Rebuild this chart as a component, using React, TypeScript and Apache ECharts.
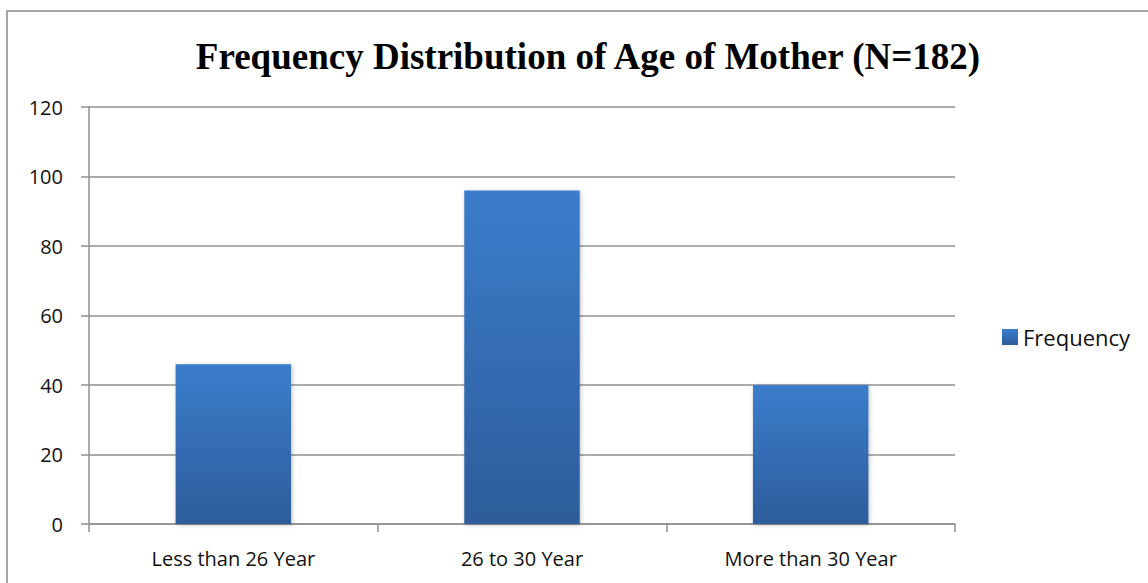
import React, { useEffect, useRef } from "react";
import * as echarts from "echarts";

const categories = ["Less than 26 Year", "26 to 30 Year", "More than 30 Year"];
const frequency = [46, 96, 40];
const seriesName = "Frequency";
const titleText = "Frequency Distribution of Age of Mother (N=182)";

const barGradient = () =>
  new echarts.graphic.LinearGradient(0, 0, 0, 1, [
    { offset: 0, color: "#3b7dcb" },
    { offset: 1, color: "#2d5c9b" },
  ]);

export default function App() {
  const ref = useRef<HTMLDivElement>(null);

  useEffect(() => {
    if (!ref.current) return;
    const chart = echarts.init(ref.current, null, { renderer: "svg" });
    const labelFont = "'Open Sans', 'Noto Sans', sans-serif";
    chart.setOption({
      animation: false,
      backgroundColor: "#ffffff",
      title: {
        text: titleText,
        left: 583,
        top: 33,
        textAlign: "center",
        textStyle: {
          fontFamily: "'Liberation Serif', 'Times New Roman', serif",
          fontWeight: "bold",
          fontSize: 37,
          color: "#000",
        },
      },
      graphic: [
        {
          type: "rect",
          shape: { x: 7, y: 11, width: 1200, height: 640 },
          style: { fill: "none", stroke: "#8a8a8a", lineWidth: 1.5 },
          silent: true,
        },
      ],
      legend: {
        data: [seriesName],
        icon: "rect",
        left: 997,
        top: 321,
        itemWidth: 16,
        itemHeight: 16,
        itemGap: 6,
        textStyle: { fontFamily: labelFont, fontSize: 22, color: "#111" },
      },
      grid: { left: 89, top: 107, width: 866, height: 417 },
      xAxis: {
        type: "category",
        data: categories,
        axisLine: { lineStyle: { color: "#909090", width: 1.5 } },
        axisTick: { show: true, length: 8, lineStyle: { color: "#909090", width: 1.5 } },
        axisLabel: { fontFamily: labelFont, fontSize: 20, color: "#111", margin: 24 },
      },
      yAxis: {
        type: "value",
        min: 0,
        max: 120,
        interval: 20,
        axisLine: { show: true, lineStyle: { color: "#909090", width: 1.5 } },
        axisTick: { show: true, length: 8, lineStyle: { color: "#909090", width: 1.5 } },
        splitLine: { lineStyle: { color: "#909090", width: 1.5 } },
        axisLabel: { fontFamily: labelFont, fontSize: 20, color: "#111", margin: 26 },
      },
      series: [
        {
          name: seriesName,
          type: "bar",
          data: frequency,
          barWidth: "40%",
          itemStyle: {
            color: barGradient(),
            shadowColor: "rgba(0,0,0,0.25)",
            shadowBlur: 4,
            shadowOffsetX: 1,
            shadowOffsetY: 1,
          },
        },
      ],
    });
    return () => chart.dispose();
  }, []);

  return (
    <div
      ref={ref}
      style={{ position: "fixed", left: 0, top: 0, width: 1148, height: 583 }}
    />
  );
}
